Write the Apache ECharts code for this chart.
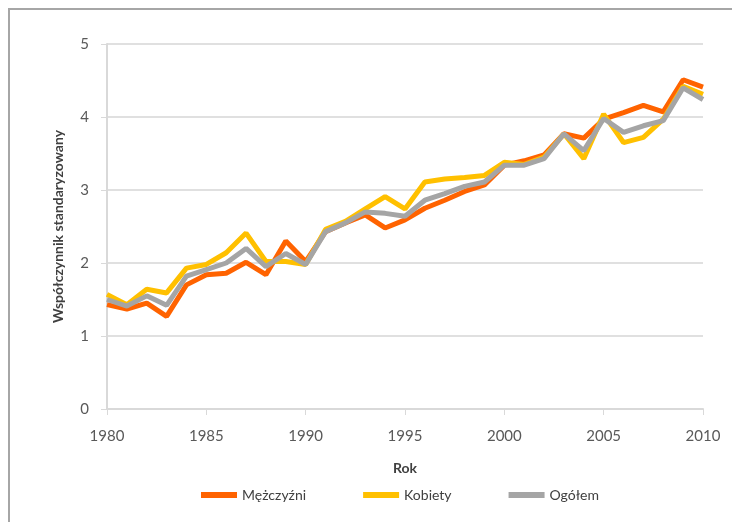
<!DOCTYPE html>
<html>
<head>
<meta charset="utf-8">
<script src="https://cdn.jsdelivr.net/npm/echarts@6/dist/echarts.min.js"></script>
<style>
  body { margin: 0; background: #fff; }
  #chart { width: 732px; height: 522px; }
</style>
</head>
<body>
<div id="chart"></div>
<script>
  // lata 1980-2010
  var years = [];
  for (var y = 1980; y <= 2010; y++) years.push(String(y));

  var mezczyzni = [1.43, 1.37, 1.45, 1.27, 1.70, 1.84, 1.86, 2.01, 1.84, 2.30,
    2.02, 2.43, 2.55, 2.66, 2.48, 2.59, 2.75, 2.86, 2.98, 3.07,
    3.34, 3.40, 3.48, 3.77, 3.71, 3.97, 4.06, 4.16, 4.07, 4.51, 4.41];
  var kobiety = [1.57, 1.43, 1.64, 1.59, 1.93, 1.98, 2.14, 2.41, 2.02, 2.02,
    1.98, 2.46, 2.57, 2.74, 2.91, 2.74, 3.11, 3.15, 3.17, 3.20,
    3.38, 3.35, 3.45, 3.77, 3.43, 4.04, 3.65, 3.72, 3.97, 4.42, 4.31];
  var ogolem = [1.50, 1.41, 1.55, 1.42, 1.82, 1.91, 2.00, 2.20, 1.95, 2.13,
    1.98, 2.43, 2.55, 2.70, 2.68, 2.64, 2.86, 2.95, 3.05, 3.11,
    3.34, 3.34, 3.43, 3.77, 3.54, 3.98, 3.79, 3.88, 3.95, 4.40, 4.24];

  var font = 'Lato, "Open Sans", sans-serif';
  var chart = echarts.init(document.getElementById('chart'));

  function lineSeries(name, data, color) {
    return {
      name: name,
      type: 'line',
      data: data,
      symbol: 'none',
      lineStyle: { width: 5, color: color },
      itemStyle: { color: color }
    };
  }

  chart.setOption({
    animation: false,
    textStyle: { fontFamily: font },
    grid: { left: 107, right: 29, top: 44, bottom: 113 },
    graphic: [{
      type: 'rect',
      shape: { x: 9, y: 9, width: 740, height: 540 },
      style: { fill: 'none', stroke: '#a6a6a6', lineWidth: 2 }
    }],
    legend: {
      bottom: 15,
      left: 196,
      icon: 'rect',
      itemWidth: 36,
      itemHeight: 6,
      itemGap: 57,
      textStyle: { fontSize: 14, color: '#404040', fontFamily: font },
      data: ['Mężczyźni', 'Kobiety', 'Ogółem']
    },
    xAxis: {
      type: 'category',
      data: years,
      boundaryGap: false,
      name: 'Rok',
      nameLocation: 'middle',
      nameGap: 52,
      nameTextStyle: { fontSize: 14, fontWeight: 'bold', color: '#404040' },
      axisLine: { lineStyle: { color: '#d9d9d9', width: 2 } },
      axisTick: { interval: 4, length: 6, lineStyle: { color: '#d9d9d9' } },
      axisLabel: { interval: 4, margin: 20, fontSize: 15, color: '#595959' },
      splitLine: { show: false }
    },
    yAxis: {
      type: 'value',
      min: 0,
      max: 5,
      interval: 1,
      name: 'Współczynnik standaryzowany',
      nameLocation: 'middle',
      nameGap: 42,
      nameTextStyle: { fontSize: 14, fontWeight: 'bold', color: '#404040' },
      axisLine: { show: true, lineStyle: { color: '#d9d9d9', width: 2 } },
      axisTick: { show: true, length: 6, lineStyle: { color: '#d9d9d9' } },
      axisLabel: { margin: 18, fontSize: 15, color: '#595959' },
      splitLine: { lineStyle: { color: '#e0e0e0', width: 2 } }
    },
    series: [
      lineSeries('Mężczyźni', mezczyzni, '#ff6300'),
      lineSeries('Kobiety', kobiety, '#ffc000'),
      lineSeries('Ogółem', ogolem, '#a5a5a5')
    ]
  });
</script>
</body>
</html>
